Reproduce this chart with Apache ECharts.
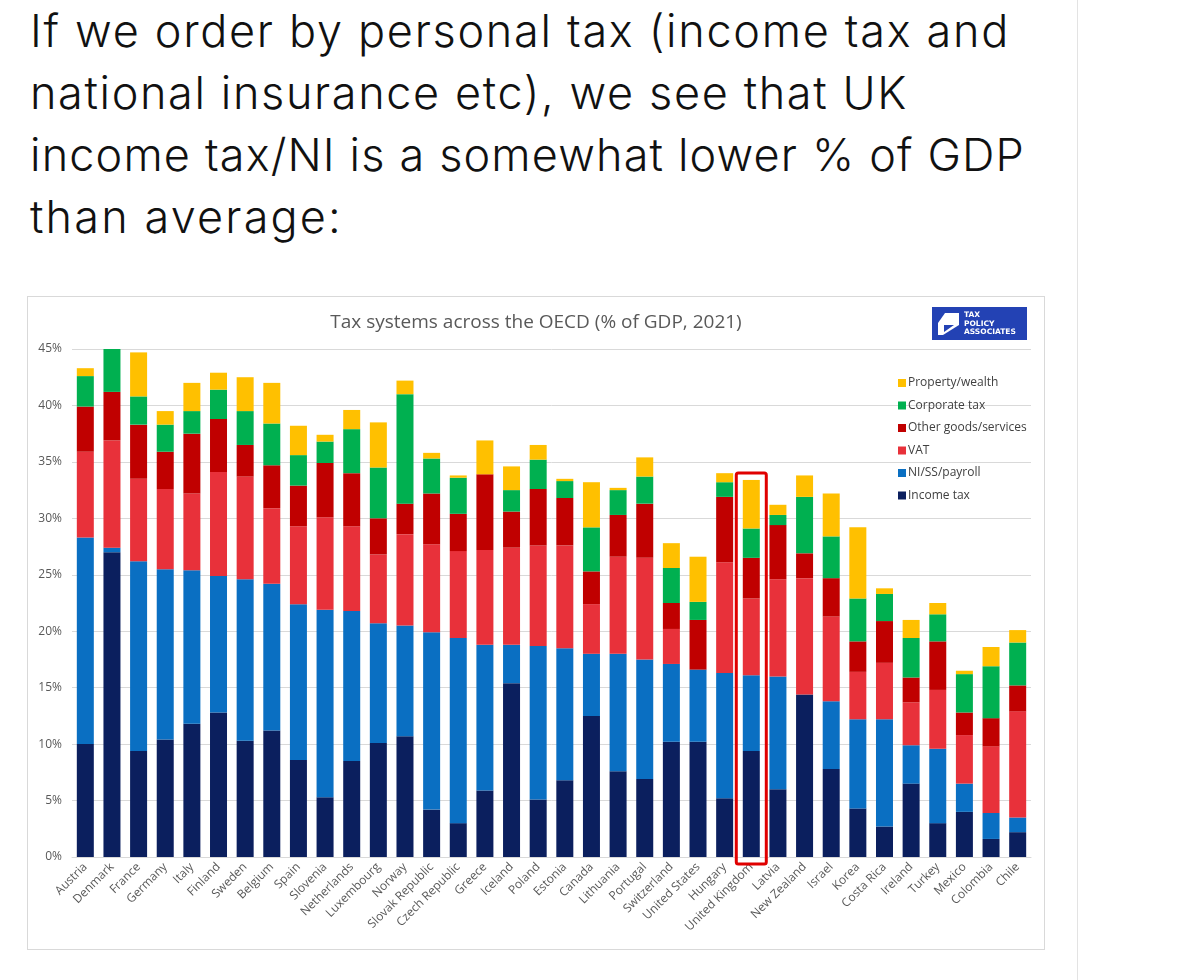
<!DOCTYPE html>
<html>
<head>
<meta charset="utf-8">
<title>Tax systems across the OECD</title>
<script src="https://cdn.jsdelivr.net/npm/echarts@6/dist/echarts.min.js"></script>
<style>
  html, body { margin: 0; padding: 0; background: #fff; }
  body { width: 1200px; height: 980px; position: relative; overflow: hidden; }
  #card { position: absolute; left: 0; top: 0; width: 1077px; height: 980px; border-right: 1px solid #e3e3e3; }
  #tweet { position: absolute; left: 30px; top: 0; font-family: Inter, Lato, sans-serif; font-weight: 300;
           font-size: 45px; line-height: 62px; color: #111; white-space: nowrap; }
  #tweet span { display: inline-block; }
  #main { position: absolute; left: 27px; top: 296px; width: 1018px; height: 654px;
          border: 1px solid #d9d9d9; box-sizing: border-box; }
</style>
</head>
<body>
<div id="card"></div>
<div id="tweet">
  <span data-w="980">If we order by personal tax (income tax and</span><br>
  <span data-w="878">national insurance etc), we see that UK</span><br>
  <span data-w="995">income tax/NI is a somewhat lower % of GDP</span><br>
  <span data-w="313">than average:</span>
</div>
<div id="main"></div>
<script>
// 国家(按个人税排序)
var countries = ['Austria', 'Denmark', 'France', 'Germany', 'Italy', 'Finland', 'Sweden', 'Belgium', 'Spain',
  'Slovenia', 'Netherlands', 'Luxembourg', 'Norway', 'Slovak Republic', 'Czech Republic', 'Greece', 'Iceland',
  'Poland', 'Estonia', 'Canada', 'Lithuania', 'Portugal', 'Switzerland', 'United States', 'Hungary',
  'United Kingdom', 'Latvia', 'New Zealand', 'Israel', 'Korea', 'Costa Rica', 'Ireland', 'Turkey', 'Mexico',
  'Colombia', 'Chile'];

// % of GDP
var incomeTax = [10.0, 27.0, 9.4, 10.4, 11.8, 12.8, 10.3, 11.2, 8.6, 5.3, 8.5, 10.1, 10.7, 4.2, 3.0, 5.9, 15.4,
  5.1, 6.8, 12.5, 7.6, 6.9, 10.2, 10.2, 5.2, 9.4, 6.0, 14.4, 7.8, 4.3, 2.7, 6.5, 3.0, 4.0, 1.6, 2.2];
var niPayroll = [18.3, 0.4, 16.8, 15.1, 13.6, 12.1, 14.3, 13.0, 13.8, 16.6, 13.3, 10.6, 9.8, 15.7, 16.4, 12.9, 3.4,
  13.6, 11.7, 5.5, 10.4, 10.6, 6.9, 6.4, 11.1, 6.7, 10.0, 0, 6.0, 7.9, 9.5, 3.4, 6.6, 2.5, 2.3, 1.3];
var vat = [7.6, 9.5, 7.3, 7.1, 6.8, 9.2, 9.1, 6.7, 6.9, 8.2, 7.5, 6.1, 8.1, 7.8, 7.7, 8.4, 8.6,
  8.9, 9.1, 4.4, 8.6, 9.0, 3.1, 0, 9.8, 6.8, 8.6, 10.3, 7.5, 4.2, 5.0, 3.8, 5.2, 4.3, 5.9, 9.4];
var otherGoods = [4.0, 4.3, 4.8, 3.3, 5.3, 4.7, 2.8, 3.8, 3.6, 4.8, 4.7, 3.2, 2.7, 4.5, 3.3, 6.7, 3.2,
  5.0, 4.2, 2.9, 3.7, 4.8, 2.3, 4.4, 5.8, 3.6, 4.8, 2.2, 3.4, 2.7, 3.7, 2.2, 4.3, 2.0, 2.5, 2.3];
var corporateTax = [2.7, 3.8, 2.5, 2.4, 2.0, 2.6, 3.0, 3.7, 2.7, 1.9, 3.9, 4.5, 9.7, 3.1, 3.2, 0, 1.9,
  2.6, 1.5, 3.9, 2.2, 2.4, 3.1, 1.6, 1.3, 2.6, 0.9, 5.0, 3.7, 3.8, 2.4, 3.5, 2.4, 3.4, 4.6, 3.8];
var propertyWealth = [0.7, 0, 3.9, 1.2, 2.5, 1.5, 3.0, 3.6, 2.6, 0.6, 1.7, 4.0, 1.2, 0.5, 0.2, 3.0, 2.1,
  1.3, 0.2, 4.0, 0.2, 1.7, 2.2, 4.0, 0.8, 4.3, 0.9, 1.9, 3.8, 6.3, 0.5, 1.6, 1.0, 0.3, 1.7, 1.1];

var yTicks = [0, 5, 10, 15, 20, 25, 30, 35, 40, 45];
var highlight = 'United Kingdom';

// 标题文字行宽对齐原图
document.querySelectorAll('#tweet span').forEach(function (s) {
  var target = +s.getAttribute('data-w');
  var n = s.textContent.length;
  var w = s.getBoundingClientRect().width;
  s.style.letterSpacing = ((target - w) / n) + 'px';
});

var myChart = echarts.init(document.getElementById('main'));

function bar(name, data, color) {
  return {
    name: name,
    type: 'bar',
    stack: 'total',
    barWidth: 17,
    data: data,
    itemStyle: { color: color }
  };
}

var option = {
  animation: false,
  backgroundColor: '#fff',
  title: {
    text: 'Tax systems across the OECD (% of GDP, 2021)',
    left: 'center',
    top: 11,
    textStyle: { fontFamily: 'Open Sans', fontWeight: 'normal', fontSize: 19, color: '#595959' }
  },
  legend: {
    orient: 'vertical',
    left: 865,
    top: 74,
    itemWidth: 8,
    itemHeight: 8,
    itemGap: 8.5,
    icon: 'rect',
    data: ['Property/wealth', 'Corporate tax', 'Other goods/services', 'VAT', 'NI/SS/payroll', 'Income tax'],
    textStyle: { fontFamily: 'Open Sans', fontSize: 12, color: '#404040', lineHeight: 14, padding: [0, 0, 0, -3] }
  },
  grid: { left: 44, right: 13, top: 52, bottom: 92 },
  xAxis: {
    type: 'category',
    data: countries,
    axisTick: { show: false },
    axisLine: { lineStyle: { color: '#d9d9d9' } },
    axisLabel: { rotate: 45, interval: 0, margin: 8, fontFamily: 'Open Sans', fontSize: 12, color: '#595959' }
  },
  yAxis: {
    type: 'value',
    min: yTicks[0],
    max: yTicks[yTicks.length - 1],
    interval: 5,
    axisLabel: { formatter: '{value}%', margin: 10, fontFamily: 'Open Sans', fontSize: 12, color: '#595959' },
    splitLine: { lineStyle: { color: '#d9d9d9' } }
  },
  series: [
    bar('Income tax', incomeTax, '#0b1f5e'),
    bar('NI/SS/payroll', niPayroll, '#0a6fc2'),
    bar('VAT', vat, '#e8313a'),
    bar('Other goods/services', otherGoods, '#c00000'),
    bar('Corporate tax', corporateTax, '#00b050'),
    bar('Property/wealth', propertyWealth, '#ffc000')
  ]
};
myChart.setOption(option);

// 英国红框 + 标志
var i = countries.indexOf(highlight);
var total = incomeTax[i] + niPayroll[i] + vat[i] + otherGoods[i] + corporateTax[i] + propertyWealth[i];
var pTop = myChart.convertToPixel({ xAxisIndex: 0, yAxisIndex: 0 }, [highlight, total]);
var pBot = myChart.convertToPixel({ xAxisIndex: 0, yAxisIndex: 0 }, [highlight, 0]);

myChart.setOption({
  graphic: [
    {
      type: 'rect',
      shape: { x: pTop[0] - 15, y: pTop[1] - 7, width: 30, height: pBot[1] - pTop[1] + 14, r: 2 },
      style: { fill: null, stroke: '#e00000', lineWidth: 3 },
      z: 100
    },
    {
      type: 'group',
      left: 904,
      top: 10,
      children: [
        { type: 'rect', shape: { x: 0, y: 0, width: 95, height: 33 }, style: { fill: '#2342b4' } },
        { type: 'polygon', shape: { points: [[13, 6], [27, 6], [27, 18], [11, 28], [6, 28], [6, 16]] },
          style: { fill: '#fff' } },
        { type: 'polygon', shape: { points: [[12, 18], [22, 18], [12, 25]] }, style: { fill: '#2342b4' } },
        { type: 'text', x: 32, y: 4,
          style: { text: 'TAX\nPOLICY\nASSOCIATES', fill: '#fff', font: 'bold 7.5px "DejaVu Sans"', lineHeight: 8.5 } }
      ]
    }
  ]
});
</script>
</body>
</html>
